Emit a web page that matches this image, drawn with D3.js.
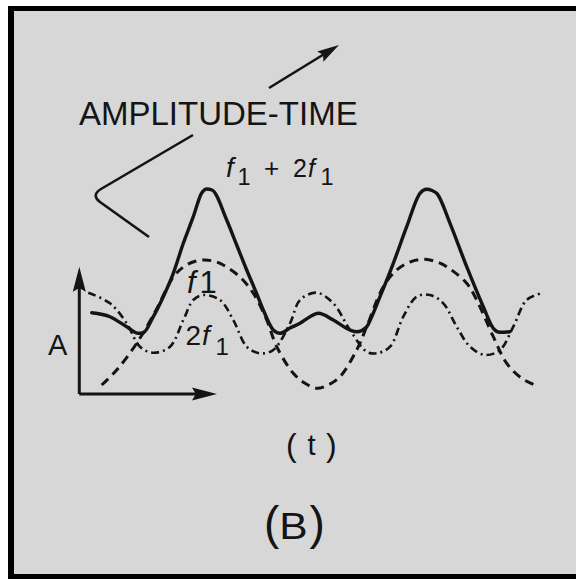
<!DOCTYPE html>
<html><head><meta charset="utf-8">
<script src="https://cdn.jsdelivr.net/npm/d3@7"></script>
<style>html,body{margin:0;padding:0;background:#fff;}svg{display:block}</style>
</head><body>
<svg id="c" width="576" height="579"></svg>
<script>
// ---- data (t = time units, a = amplitude units) ----
const sumT = [1.37, 3.2, 4.87, 6.03, 6.5, 7.53, 8.53, 9.53, 10.53, 11.53, 12.37, 12.87, 13.4, 14.87, 15.87, 16.87, 17.8, 18.53, 19.53, 20.2, 21.2, 22.2, 23.2, 24.03, 25.53, 27.2, 27.87, 28.87, 29.37, 30.2, 31.53, 32.87, 34.2, 34.87, 35.4, 35.87, 37.2, 38.87, 40.53, 41.53, 42.2, 43.2];
const sumA = [8.13, 7.73, 6.73, 6.07, 6.1, 7.73, 9.73, 12.07, 15.07, 17.73, 20.1, 20.5, 20.4, 17.4, 14.9, 12.4, 10.2, 8.4, 6.4, 6.07, 6.6, 7.07, 7.73, 8.07, 7.4, 6.4, 6.23, 6.73, 7.73, 9.73, 13.07, 16.73, 20.07, 20.47, 20.35, 20.07, 17.07, 12.73, 8.73, 6.57, 6.17, 6.23];

const f1T = [2.37, 3.87, 5.87, 7.7, 9.53, 10.53, 11.5, 12.53, 13.5, 14.53, 16.2, 17.53, 18.87, 19.87, 21.53, 22.7, 23.87, 25.0, 26.2, 27.87, 28.87, 30.53, 31.87, 33.2, 34.7, 35.9, 36.87, 38.87, 39.87, 41.53, 42.87, 44.37, 45.7];
const f1A = [0.9, 2.4, 5.07, 8.2, 11.7, 12.7, 13.2, 13.4, 13.3, 12.9, 11.7, 10.07, 7.4, 4.73, 2.07, 1.07, 0.57, 0.9, 1.73, 4.4, 6.73, 10.73, 12.4, 13.2, 13.47, 13.2, 12.73, 11.07, 9.4, 5.73, 3.07, 1.57, 0.9];

const f2T = [1.03, 3.2, 4.87, 6.2, 7.53, 9.2, 10.53, 11.53, 12.53, 14.2, 15.53, 16.87, 18.2, 19.53, 21.2, 22.2, 23.87, 25.53, 27.2, 28.87, 29.87, 31.2, 32.53, 33.87, 35.2, 36.53, 37.87, 39.2, 40.7, 42.2, 43.53, 44.87, 46.53];
const f2A = [10.13, 9.07, 7.07, 4.73, 4.13, 4.73, 7.4, 9.4, 9.9, 9.4, 7.4, 4.73, 4.07, 4.4, 7.07, 9.4, 10.13, 9.07, 6.4, 4.23, 4.07, 4.73, 7.73, 9.73, 9.9, 9.07, 6.73, 4.73, 3.9, 4.4, 6.73, 9.4, 10.13];

const xAxisEnd = 13.9;   // time-axis arrow tip (t units)
const yAxisEnd = 12.73;  // amplitude-axis arrow tip (a units)

const title = "AMPLITUDE-TIME";
const panelLabel = "B";
const timeLabel = "t";
const ampLabel = "A";

// ---- drawing ----
const svg = d3.select("#c");
const ink = "#141414";
const x = d3.scaleLinear().domain([0, 50]).range([78, 578]);
const y = d3.scaleLinear().domain([0, 20]).range([394, 194]);

svg.append("rect").attr("x", 8).attr("y", 6).attr("width", 568).attr("height", 573).attr("fill", "#000");
svg.append("rect").attr("x", 14).attr("y", 11).attr("width", 562).attr("height", 563).attr("fill", "#d7d7d7");

function arrow(x1, y1, x2, y2, len, hw, sw) {
  const dx = x2 - x1, dy = y2 - y1, L = Math.hypot(dx, dy);
  const ux = dx / L, uy = dy / L;
  const bx = x2 - ux * len, by = y2 - uy * len;
  svg.append("line").attr("x1", x1).attr("y1", y1)
    .attr("x2", x2 - ux * len * 0.5).attr("y2", y2 - uy * len * 0.5)
    .attr("stroke", ink).attr("stroke-width", sw);
  svg.append("path")
    .attr("d", `M${x2},${y2}L${bx - uy * hw},${by + ux * hw}L${bx + ux * len * 0.15},${by + uy * len * 0.15}L${bx + uy * hw},${by - ux * hw}Z`)
    .attr("fill", ink);
}

// axes
arrow(x(0.13), y(0), x(0.13), y(yAxisEnd), 25, 6.5, 3);
arrow(x(0.13), y(0), x(xAxisEnd), y(0), 25, 6.5, 3);

const line = (T, A, curve) => d3.line().x((d, i) => x(T[i])).y((d, i) => y(A[i])).curve(curve)(T);

svg.append("path").attr("d", line(f1T, f1A, d3.curveCatmullRom.alpha(0.5)))
  .attr("fill", "none").attr("stroke", ink).attr("stroke-width", 3)
  .attr("stroke-dasharray", "9,6");
svg.append("path").attr("d", line(f2T, f2A, d3.curveCatmullRom.alpha(0.5)))
  .attr("fill", "none").attr("stroke", ink).attr("stroke-width", 2.6)
  .attr("stroke-dasharray", "8,4,2,4");
svg.append("path").attr("d", line(sumT, sumA, d3.curveMonotoneX))
  .attr("fill", "none").attr("stroke", ink).attr("stroke-width", 3.4)
  .attr("stroke-linejoin", "round").attr("stroke-linecap", "round");

// leader line and arrow
svg.append("path").attr("d", "M193,135L101,189Q91,195 100,202L149,237")
  .attr("fill", "none").attr("stroke", ink).attr("stroke-width", 2.6);
arrow(269, 88, 339, 45, 22, 6, 2.6);

const font = "'Liberation Sans', Arial, Helvetica, sans-serif";
function txt(xp, yp, s, fs, italic) {
  return svg.append("text").attr("x", xp).attr("y", yp).text(s)
    .attr("font-family", font).attr("font-size", fs)
    .attr("font-style", italic ? "italic" : "normal").attr("fill", ink);
}

txt(79, 125, title, 33);

// f1 + 2f1
txt(226, 176.5, "f", 28, true);
txt(237.5, 185, "1", 23.5);
txt(264, 176.5, "+", 26);
txt(293, 176.5, "2", 25);
txt(308, 176.5, "f", 25, true);
txt(320.4, 185, "1", 23.5);

// f1 label
txt(187, 293, "f", 31, true);
txt(199.6, 293, "1", 31);
// 2f1 label
txt(185.5, 345, "2", 28);
txt(202, 345, "f", 28, true);
txt(215.5, 355, "1", 24);

txt(48, 355, ampLabel, 29);

// (t)
txt(286, 456, "(", 32);
txt(307.5, 455, timeLabel, 29);
txt(326, 456, ")", 32);

// (B)
txt(264, 538.5, "(", 46);
svg.append("text").attr("transform", "translate(293.5,538.5) scale(1.15,1)")
  .attr("text-anchor", "middle").text(panelLabel)
  .attr("font-family", font).attr("font-size", 37).attr("fill", ink);
txt(309.5, 538.5, ")", 46);
</script>
</body></html>
